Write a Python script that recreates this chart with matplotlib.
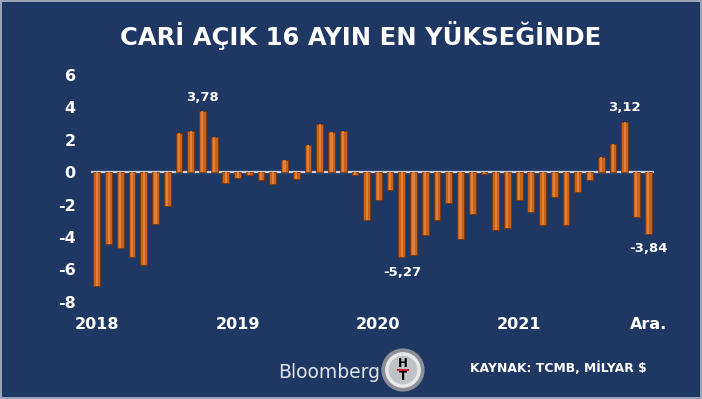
import matplotlib
matplotlib.use("Agg")
import matplotlib.pyplot as plt
from matplotlib.patches import Circle

# monthly current account balance, billion $ (Jan 2018 - Dec 2021)
values = [
    -7.06, -4.42, -4.67, -5.25, -5.76, -3.19, -2.06, 2.43, 2.57, 3.78, 2.20, -0.68,
    -0.37, -0.20, -0.47, -0.72, 0.78, -0.41, 1.65, 2.98, 2.49, 2.53, -0.16, -2.98,
    -1.75, -1.13, -5.27, -5.10, -3.87, -2.98, -1.89, -4.12, -2.57, -0.10, -3.56, -3.46,
    -1.75, -2.47, -3.25, -1.54, -3.29, -1.21, -0.47, 0.93, 1.75, 3.12, -2.80, -3.84,
]
tick_pos = [0, 12, 24, 36, 47]
tick_labels = ["2018", "2019", "2020", "2021", "Ara."]
y_ticks = [6, 4, 2, 0, -2, -4, -6, -8]
labelled = {9: "3,78", 26: "-5,27", 45: "3,12", 47: "-3,84"}

bg = "#1f3763"
W, H = 702, 399

fig = plt.figure(figsize=(W / 100, H / 100), dpi=100)
fig.patch.set_facecolor(bg)
fig.patch.set_edgecolor("#9aa5b5")
fig.patch.set_linewidth(1.5)

ax = fig.add_axes([91 / W, (H - 301.7) / H, 563 / W, 226.7 / H])
ax.set_facecolor(bg)
x = list(range(len(values)))
ax.bar(x, values, width=0.58, color="#c8621a", edgecolor="#7a3608", linewidth=0.6, zorder=2)
ax.bar(x, values, width=0.18, color="#e58a45", linewidth=0, alpha=0.8, zorder=3)
ax.axhline(0, color="#c9d1dd", lw=1.6, zorder=1)

ax.set_xlim(-0.5, 47.5)
ax.set_ylim(-8, 6)
ax.set_yticks(y_ticks)
ax.set_yticklabels([str(v) for v in y_ticks])
ax.set_xticks(tick_pos)
ax.set_xticklabels(tick_labels)
ax.tick_params(length=0, colors="white", labelsize=11.5, pad=11)
for lab in ax.get_xticklabels() + ax.get_yticklabels():
    lab.set_fontweight("bold")
ax.tick_params(axis="y", pad=11)
for s in ax.spines.values():
    s.set_visible(False)

for i, txt in labelled.items():
    v = values[i]
    off = 0.45 if v > 0 else -0.5
    ax.text(i, v + off, txt, ha="center", va="bottom" if v > 0 else "top",
            color="white", fontsize=9.5, fontweight="bold")

fig.text(361 / W, 1 - 36 / H, "CARİ AÇIK 16 AYIN EN YÜKSEĞİNDE", ha="center", va="center",
         color="white", fontsize=17.5, fontweight="bold")

fig.text(380 / W, 1 - 372 / H, "Bloomberg", ha="right", va="center",
         color="#dfe3e8", fontsize=13.5)
fig.text(470 / W, 1 - 368 / H, "KAYNAK: TCMB, MİLYAR $", ha="left", va="center",
         color="white", fontsize=8.9, fontweight="bold")

# HT logo
lax = fig.add_axes([381 / W, (H - 392) / H, 44 / W, 44 / H])
lax.set_xlim(-1, 1)
lax.set_ylim(-1, 1)
lax.set_aspect("equal")
lax.axis("off")
lax.add_patch(Circle((0, 0), 0.95, color="#8c9096"))
lax.add_patch(Circle((0, 0), 0.78, color="#e8e9eb"))
lax.add_patch(Circle((0, 0), 0.62, color="#bfc2c6"))
lax.text(0, 0.3, "H", ha="center", va="center", fontsize=8.5, fontweight="bold", color="black")
lax.plot([-0.22, 0.22], [0, 0], color="#d0202a", lw=1.5)
lax.text(0, -0.3, "T", ha="center", va="center", fontsize=8.5, fontweight="bold", color="black")

fig.savefig("out.png", dpi=100, facecolor=bg, edgecolor=fig.get_edgecolor())
